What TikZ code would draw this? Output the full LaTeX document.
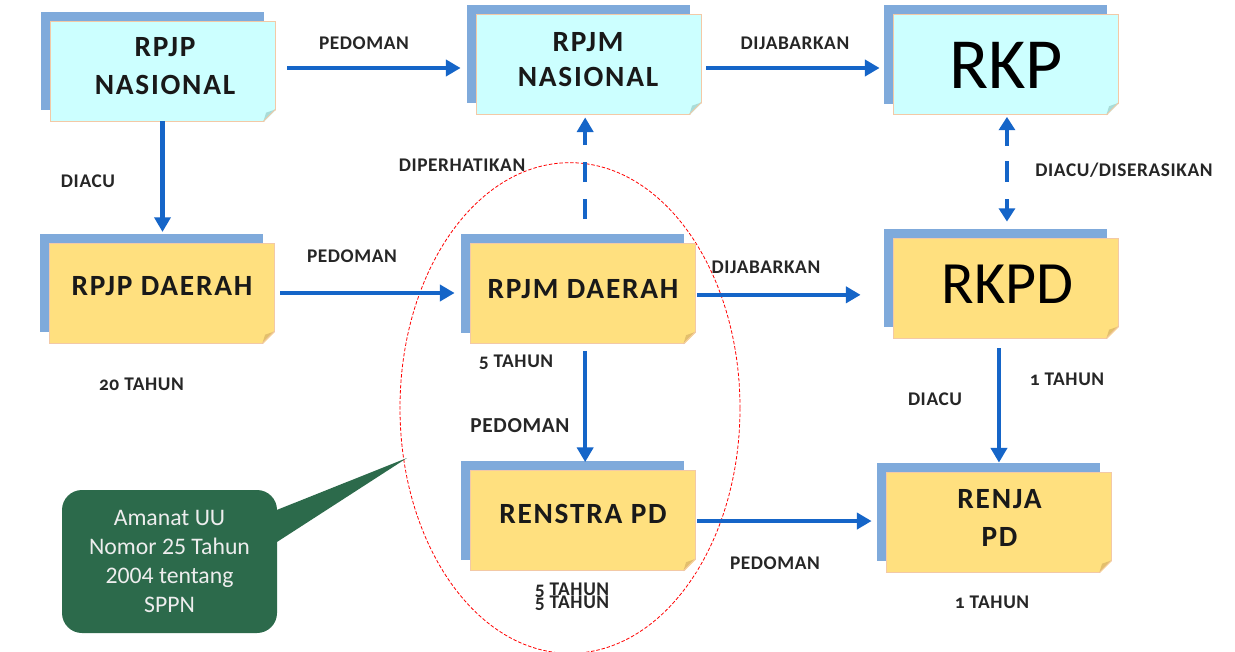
\documentclass[tikz,border=0pt]{standalone}
\usepackage{fontspec}
\setmainfont{Carlito}
\newfontfamily\numfont[Numbers=OldStyle,LetterSpace=3]{Carlito}
\newfontfamily\boxfont[LetterSpace=6]{Carlito}
\newfontfamily\lblfont[LetterSpace=3]{Carlito}
\usetikzlibrary{arrows.meta}
\definecolor{backblue}{HTML}{7FAADB}
\definecolor{cyanfill}{HTML}{CCFFFF}
\definecolor{yelfill}{HTML}{FFE07F}
\definecolor{notebord}{HTML}{F3C9A6}
\definecolor{arrblue}{HTML}{1565C8}
\definecolor{calgreen}{HTML}{2C6A4B}
\definecolor{foldcyan}{HTML}{A8DCD8}
\definecolor{foldyel}{HTML}{E3BF6B}
\tikzset{
  back/.style={fill=backblue, draw=none, minimum width=167.25pt, minimum height=74pt, inner sep=0pt},
  note/.style={draw=notebord, line width=0.6pt, minimum width=168.75pt, minimum height=75pt, inner sep=0pt},
  boxtxt/.style={font=\boxfont\bfseries\fontsize{22}{28.5}\selectfont, align=center, inner sep=0pt, text=black!90},
  bigtxt/.style={font=\fontsize{54}{60}\selectfont, inner sep=0pt},
  lbl/.style={font=\lblfont\bfseries\fontsize{14.5}{17}\selectfont, inner sep=0pt, anchor=base, text=black!85},
  numlbl/.style={font=\numfont\bfseries\fontsize{14.5}{17}\selectfont, inner sep=0pt, anchor=base, text=black!85},
  arr/.style={draw=arrblue, line width=3.2pt, -{Triangle[length=11pt,width=12pt]}},
  darr/.style={arr, dash pattern=on 15pt off 12.75pt},
  ddarr/.style={draw=arrblue, line width=3.2pt, {Triangle[length=10pt,width=12pt]}-{Triangle[length=10pt,width=12pt]},
     dash pattern=on 12.75pt off 11.25pt on 15.75pt off 12.75pt on 16pt off 5pt},
  ellip/.style={draw=red, line width=0.6pt, dash pattern=on 2.6pt off 1.4pt},
  callout/.style={fill=calgreen, rounded corners=15pt, minimum width=161.25pt, minimum height=107.25pt,
     text=white!93!black, align=center, font=\fontsize{17.8}{21.75}\selectfont, inner sep=0pt}
}
\newcommand\mydogear[2]{%
  \fill[white] ([xshift=-9pt,yshift=-1pt]#1.south east) -- ([xshift=1pt,yshift=-1pt]#1.south east) -- ([xshift=1pt,yshift=9pt]#1.south east) -- cycle;
  \fill[#2] ([xshift=-9pt]#1.south east) -- ([yshift=9pt]#1.south east) -- ([xshift=-7pt,yshift=6.5pt]#1.south east) -- cycle;
  \draw[notebord, line width=0.6pt] ([xshift=-9pt]#1.south east) -- ([yshift=9pt]#1.south east);
}
\newcommand\notebox[5]{%
  \node[back] (#1b) at (#2-10,#3-10) {};
  \node[note, fill=#4] (#1) at (#2,#3) {};
  \mydogear{#1}{#5}
}
\begin{document}
\begin{tikzpicture}[x=0.75pt, y=-0.75pt]
\fill[white] (0,0) rectangle (1235,652);
\useasboundingbox (0,0) rectangle (1235,652);

% red dashed ellipse
\draw[ellip] (570,408) ellipse [x radius=127.5pt, y radius=184pt];

% boxes
\notebox{rpjpn}{162.5}{71}{cyanfill}{foldcyan}
\notebox{rpjmn}{588.5}{64}{cyanfill}{foldcyan}
\notebox{rkp}{1005.5}{64.5}{cyanfill}{foldcyan}
\notebox{rpjpd}{161.5}{293}{yelfill}{foldyel}
\notebox{rpjmd}{582.5}{293.5}{yelfill}{foldyel}
\notebox{rkpd}{1005.5}{288}{yelfill}{foldyel}
\notebox{renstra}{582.5}{520.5}{yelfill}{foldyel}
\notebox{renja}{998.5}{522}{yelfill}{foldyel}

% box texts
\node[boxtxt] (t1) at (165,66) {RPJP\\NASIONAL};
\node[boxtxt, font=\boxfont\bfseries\fontsize{22}{26.25}\selectfont] (t2) at (588,60) {RPJM\\NASIONAL};
\node[bigtxt] (t3) at (1006,65) {RKP};
\node[boxtxt] (t4) at (162,286.5) {RPJP DAERAH};
\node[boxtxt] (t5) at (583,289) {RPJM DAERAH};
\node[bigtxt, font=\fontsize{45}{50}\selectfont] (t6) at (1007.5,284) {RKPD};
\node[boxtxt] (t7) at (583,514) {RENSTRA PD};
\node[boxtxt] (t8) at (999.5,517.5) {RENJA\\PD};

% connectors
\coordinate (a1) at ([xshift=9pt,yshift=2.25pt]rpjpn.east);
\draw[arr] (a1) -- ([xshift=-11.25pt]a1 -| rpjmn.west);
\coordinate (a2) at ([xshift=3.75pt,yshift=-3pt]rpjmn.east);
\draw[arr] (a2) -- ([xshift=-9.75pt]a2 -| rkp.west);
\draw[arr] (rpjpn.south) -- ([yshift=8pt]rpjpn.south |- rpjpd.north);
\coordinate (a4) at ([xshift=4.5pt]rpjpd.east);
\draw[arr] (a4) -- ([xshift=-11.25pt]a4 -| rpjmd.west);
\coordinate (a5) at ([xshift=2pt,yshift=18pt]rpjmd.north);
\draw[darr] (a5) -- ([yshift=-2.25pt]a5 |- rpjmn.south);
\coordinate (a6) at ([xshift=1.5pt,yshift=-1pt]rpjmd.east);
\draw[arr] (a6) -- ([xshift=-24pt]a6 -| rkpd.west);
\coordinate (a7) at ([xshift=1.1pt,yshift=-1.5pt]rkp.south);
\draw[ddarr] (a7) -- ([yshift=12pt]a7 |- rkpd.north);
\coordinate (a8) at ([xshift=2pt,yshift=-5.25pt]rpjmd.south);
\draw[arr] (a8) -- ([yshift=6pt]a8 |- renstra.north);
\coordinate (a9) at ([xshift=-4.9pt,yshift=-7.5pt]rkpd.south);
\draw[arr] (a9) -- ([yshift=6.75pt]a9 |- renja.north);
\coordinate (a10) at ([xshift=1.5pt,yshift=-0.4pt]renstra.east);
\draw[arr] (a10) -- ([xshift=-10.5pt]a10 -| renja.west);

% labels
\node[lbl] (l1) at (364,50) {PEDOMAN};
\node[lbl] (l2) at (795,50) {DIJABARKAN};
\node[lbl] (l3) at (88,188) {DIACU};
\node[lbl] (l4) at (352,263) {PEDOMAN};
\node[lbl] (l5) at (462,172) {DIPERHATIKAN};
\node[lbl] (l6) at (766,274) {DIJABARKAN};
\node[lbl] (l7) at (1124,177) {DIACU/DISERASIKAN};
\node[numlbl] (l8) at (141.5,390) {20 TAHUN};
\node[numlbl] (l9) at (516,367) {5 TAHUN};
\node[lbl, font=\lblfont\bfseries\fontsize{16}{19}\selectfont] (l10) at (520,432) {PEDOMAN};
\node[lbl] (l11) at (935,405) {DIACU};
\node[numlbl] (l12) at (1067,385) {1 TAHUN};
\node[lbl] (l13) at (775,569) {PEDOMAN};
\node[numlbl] (l14) at (572,595) {5 TAHUN};
\node[numlbl] (l15) at (572,608) {5 TAHUN};
\node[numlbl] (l16) at (992,608) {1 TAHUN};

% callout
\node[callout] (amanat) at (169.5,561.5) {Amanat UU\\Nomor 25 Tahun\\2004 tentang\\SPPN};
\coordinate (tip) at (407,458);
\fill[calgreen] ([xshift=-6pt,yshift=36.4pt]amanat.east) -- (tip) -- ([xshift=-6pt,yshift=10.9pt]amanat.east) -- cycle;
\end{tikzpicture}
\end{document}
